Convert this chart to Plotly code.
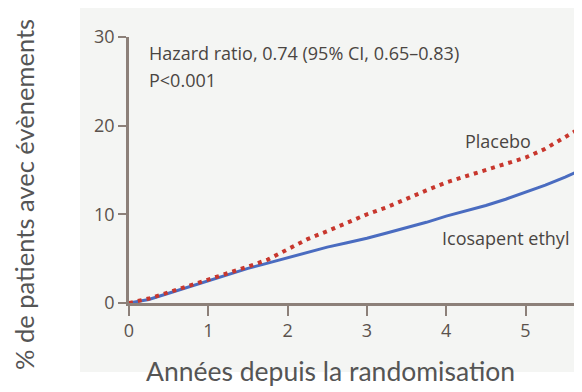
import plotly.graph_objects as go

# Data
years = [0, 0.25, 0.5, 0.75, 1.0, 1.25, 1.5, 1.75, 2.0, 2.25, 2.5, 2.75, 3.0,
         3.25, 3.5, 3.75, 4.0, 4.25, 4.5, 4.75, 5.0, 5.25, 5.5, 5.65]
placebo = [0, 0.5, 1.2, 1.9, 2.6, 3.3, 4.1, 4.9, 6.1, 7.2, 8.1, 9.1, 10.0,
           10.8, 11.8, 12.7, 13.6, 14.3, 15.0, 15.6, 16.4, 17.4, 18.7, 19.5]
icosapent = [0, 0.4, 1.1, 1.8, 2.5, 3.2, 3.9, 4.5, 5.1, 5.7, 6.3, 6.8, 7.3,
             7.9, 8.5, 9.1, 9.8, 10.4, 11.0, 11.7, 12.5, 13.3, 14.2, 14.8]
x_ticks = [0, 1, 2, 3, 4, 5]
y_ticks = [0, 10, 20, 30]

OFF = 8  # page body margin of the html page
W, H = 582 - OFF, 392 - OFF
L, R, T, B = 129 - OFF, 1, 37 - OFF, 89
PW, PH = W - L - R, H - T - B


def px(xp):
    return (xp - OFF - L) / PW


def py(yp):
    return (H - B - (yp - OFF)) / PH


axis_col = "#8c8079"
tick_font = dict(family="Open Sans", size=18, color="#5b524d")
inner_font = dict(family="Open Sans", size=18, color="#4a4542")
outer_font = dict(family="Lato", size=26.5, color="#555555")

fig = go.Figure()
fig.add_trace(go.Scatter(x=years, y=icosapent, mode="lines", name="Icosapent ethyl",
                         line=dict(color="#4a6cc0", width=3), cliponaxis=False))
fig.add_trace(go.Scatter(x=years, y=placebo, mode="lines", name="Placebo",
                         line=dict(color="#c8372d", width=4, dash="4px,5px"), cliponaxis=False))

fig.update_layout(
    width=W, height=H,
    margin=dict(l=L, r=R, t=T, b=B, pad=0),
    paper_bgcolor="white", plot_bgcolor="rgba(0,0,0,0)",
    showlegend=False,
    xaxis=dict(range=[0, PW / 79.3], tickvals=x_ticks, ticktext=[str(v) for v in x_ticks],
               showgrid=False, zeroline=False, showline=True, linecolor=axis_col, linewidth=2.5,
               ticks="outside", ticklen=10, tickwidth=2, tickcolor=axis_col,
               tickfont=tick_font, automargin=False),
    yaxis=dict(range=[0, 30], tickvals=y_ticks, ticktext=[str(v) for v in y_ticks],
               showgrid=False, zeroline=False, showline=True, linecolor=axis_col, linewidth=2.5,
               ticks="outside", ticklen=8, tickwidth=2, tickcolor=axis_col,
               tickfont=tick_font, automargin=False),
)

fig.add_shape(type="rect", xref="paper", yref="paper",
              x0=px(80), x1=px(600), y0=py(372), y1=py(8),
              fillcolor="#f4f5f3", line=dict(width=0), layer="below")

ann = [
    dict(text="Hazard ratio, 0.74 (95% CI, 0.65\u20130.83)", x=px(147), y=py(53), xanchor="left", font=inner_font),
    dict(text="P<0.001", x=px(147), y=py(80), xanchor="left", font=inner_font),
    dict(text="Placebo", x=px(498), y=py(141), xanchor="center", font=inner_font),
    dict(text="Icosapent ethyl", x=px(505), y=py(238), xanchor="center", font=inner_font),
    dict(text="Années depuis la randomisation", x=px(330), y=py(371), xanchor="center", font=outer_font),
    dict(text="% de patients avec évènements", x=px(24), y=py(195), xanchor="center",
         textangle=-90, font=dict(family="Lato", size=25.5, color="#555555")),
]
for a in ann:
    fig.add_annotation(xref="paper", yref="paper", yanchor="middle", showarrow=False, **a)

fig.write_html("out.html")
